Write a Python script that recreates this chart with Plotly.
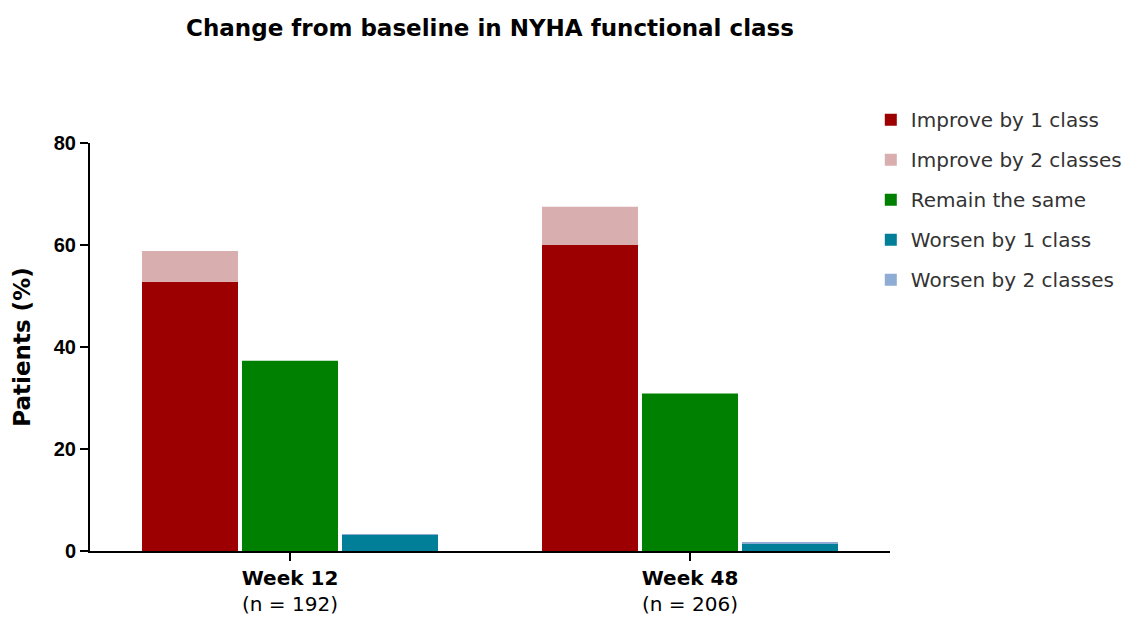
import plotly.graph_objects as go

weeks = ["<b>Week 12</b><br>(n = 192)", "<b>Week 48</b><br>(n = 206)"]

improve_1 = [52.8, 60.0]
improve_2 = [6.0, 7.5]
remain_same = [37.3, 30.9]
worsen_1 = [3.2, 1.5]
worsen_2 = [0.1, 0.1]

series = [
    ("Improve by 1 class", improve_1, "#9C0000", "improve"),
    ("Improve by 2 classes", improve_2, "#D8AEAE", "improve"),
    ("Remain the same", remain_same, "#008000", "same"),
    ("Worsen by 1 class", worsen_1, "#017F98", "worsen"),
    ("Worsen by 2 classes", worsen_2, "#8EACD4", "worsen"),
]

FONT = "Liberation Sans, Arial, sans-serif"
WIDE = "DejaVu Sans, Verdana, sans-serif"

fig = go.Figure()
for name, vals, color, group in series:
    fig.add_trace(
        go.Bar(
            x=weeks,
            y=vals,
            name=name,
            offsetgroup=group,
            legendgroup=name,
            marker=dict(color=color, line=dict(width=0)),
        )
    )

# page body adds an 8px offset, so the figure is a bit smaller than the window
fig.update_layout(
    width=1133,
    height=613,
    barmode="relative",
    bargap=0.25,
    bargroupgap=0.04,
    plot_bgcolor="white",
    paper_bgcolor="white",
    font=dict(family=FONT, color="black"),
    margin=dict(l=82, r=251, t=135, b=70),
    title=dict(
        text="<b>Change from baseline in NYHA functional class</b>",
        font=dict(size=23, family=WIDE, color="black"),
        x=0.5,
        xref="paper",
        xanchor="center",
        y=1 - 20 / 613,
        yanchor="middle",
    ),
    legend=dict(
        x=0.976,
        y=1.105,
        xanchor="left",
        yanchor="top",
        traceorder="grouped",
        tracegroupgap=11,
        font=dict(size=20, family=WIDE, color="#333333"),
    ),
    xaxis=dict(
        automargin=False,
        showline=True,
        linecolor="black",
        linewidth=2,
        ticks="outside",
        ticklen=8,
        tickwidth=2,
        tickcolor="black",
        tickfont=dict(size=20, family=WIDE, color="black"),
        range=[-0.5, 1.5],
    ),
    yaxis=dict(
        automargin=False,
        title=dict(
            text="<b>Patients (%)</b>",
            font=dict(size=23, family=WIDE, color="black"),
            standoff=17,
        ),
        range=[0, 80],
        tickvals=[0, 20, 40, 60, 80],
        showline=True,
        linecolor="black",
        linewidth=2,
        ticks="outside",
        ticklen=8,
        tickwidth=2,
        tickcolor="black",
        showgrid=False,
        zeroline=False,
        tickfont=dict(size=20, family=FONT, color="black", weight="bold"),
    ),
)

fig.write_html("out.html")
